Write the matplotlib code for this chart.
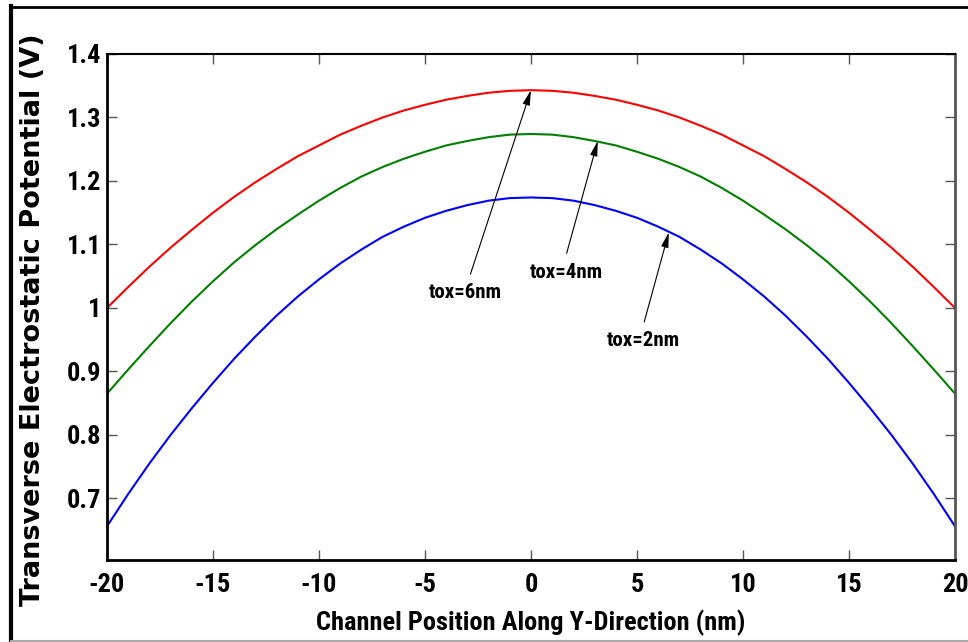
import matplotlib
matplotlib.use("Agg")
import matplotlib.pyplot as plt
from matplotlib.lines import Line2D

plt.rcParams["axes.unicode_minus"] = False

# ---- data ----
x_nm = list(range(-20, 21))
_red_half = [1.343, 1.342, 1.339, 1.334, 1.328, 1.320, 1.311, 1.300, 1.287, 1.273, 1.256,
             1.239, 1.219, 1.198, 1.175, 1.150, 1.123, 1.095, 1.065, 1.033, 1.000]
_grn_half = [1.274, 1.273, 1.269, 1.263, 1.256, 1.246, 1.235, 1.222, 1.207, 1.189, 1.169,
             1.147, 1.124, 1.099, 1.072, 1.042, 1.010, 0.976, 0.940, 0.903, 0.865]
_blu_half = [1.174, 1.173, 1.169, 1.162, 1.153, 1.142, 1.128, 1.112, 1.092, 1.070, 1.045,
             1.018, 0.988, 0.955, 0.920, 0.882, 0.842, 0.800, 0.755, 0.707, 0.656]
v_tox6 = _red_half[::-1] + _red_half[1:]
v_tox4 = _grn_half[::-1] + _grn_half[1:]
v_tox2 = _blu_half[::-1] + _blu_half[1:]

labels = ["tox=6nm", "tox=4nm", "tox=2nm"]
arrow_heads = [(0.0, 1.343), (3.15, 1.263), (6.5, 1.119)]
arrow_tails = [(-2.86, 1.053), (1.68, 1.086), (5.34, 0.978)]
label_pos = [(-3.1, 1.025), (1.65, 1.056), (5.3, 0.948)]

xticks = [-20, -15, -10, -5, 0, 5, 10, 15, 20]
yticks = [0.7, 0.8, 0.9, 1.0, 1.1, 1.2, 1.3, 1.4]
yticklabels = ["0.7", "0.8", "0.9", "1", "1.1", "1.2", "1.3", "1.4"]

narrow = ["Roboto Condensed", "PT Sans Narrow", "DejaVu Sans"]

fig = plt.figure(figsize=(9.68, 6.42), dpi=100)
ax = fig.add_axes([107 / 968, 1 - 560.3 / 642, (955 - 107) / 968, (560.3 - 54) / 642])

ax.plot(x_nm, v_tox6, color="#ff0000", lw=1.5)
ax.plot(x_nm, v_tox4, color="#007f00", lw=1.5)
ax.plot(x_nm, v_tox2, color="#0000ff", lw=1.5)

for lab, hd, tl, lp in zip(labels, arrow_heads, arrow_tails, label_pos):
    ax.annotate("", xy=hd, xytext=tl,
                arrowprops=dict(arrowstyle="-|>,head_length=0.9,head_width=0.22",
                                color="black", lw=0.8, shrinkA=0, shrinkB=0))
    ax.text(lp[0], lp[1], lab, ha="center", va="center", fontsize=15,
            fontweight="bold", family=narrow)

ax.set_xlim(-20, 20)
ax.set_ylim(0.6025, 1.4)
ax.set_xticks(xticks)
ax.set_yticks(yticks)
ax.set_yticklabels(yticklabels)
for t in ax.get_xticklabels() + ax.get_yticklabels():
    t.set_fontfamily(narrow)
    t.set_fontweight("bold")
    t.set_fontsize(19)

ax.tick_params(direction="in", length=7, width=1, top=True, right=True,
               color="#555555", pad=9)
ax.tick_params(axis="y", pad=4)

ax.spines["left"].set_linewidth(2)
ax.spines["bottom"].set_linewidth(2)
ax.spines["top"].set_linewidth(1.5)
ax.spines["right"].set_linewidth(2)
ax.spines["right"].set_color("#555555")

ax.set_xlabel("Channel Position Along Y-Direction (nm)", fontsize=19,
              fontweight="bold", family=narrow, labelpad=9)
fig.text(33 / 968, 1 - 320 / 642, "Transverse Electrostatic Potential (V)",
         rotation=90, ha="center", va="center", fontsize=19.5, fontweight="bold",
         family=["DejaVu Sans"])

# outer frame
fig.add_artist(Line2D([11 / 968, 11 / 968], [1 - 6 / 642, 1 - 641 / 642],
                      transform=fig.transFigure, color="black", lw=3))
fig.add_artist(Line2D([11 / 968, 1.0], [1 - 6.5 / 642, 1 - 6.5 / 642],
                      transform=fig.transFigure, color="black", lw=2))
fig.add_artist(Line2D([11 / 968, 1.0], [1 - 641 / 642, 1 - 641 / 642],
                      transform=fig.transFigure, color="#aaaaaa", lw=1.5))

fig.savefig("out.png", dpi=100)
